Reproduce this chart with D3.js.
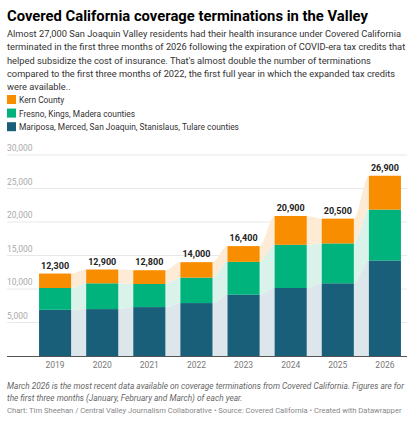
<!DOCTYPE html>
<html><head><meta charset="utf-8">
<script src="https://cdn.jsdelivr.net/npm/d3@7"></script>
<style>
body{margin:0;background:#fff;font-family:Roboto,"Noto Sans",sans-serif;color:#222}
#c{width:414px;height:423px;position:relative}
</style></head><body><div id="c"></div>
<script>
const years = ["2019","2020","2021","2022","2023","2024","2025","2026"];
const valley = [6900, 7000, 7300, 7900, 9150, 10150, 10850, 14250];
const fresno = [3250, 3850, 3450, 3800, 4900, 6450, 5950, 7600];
const kern = [2150, 2050, 2050, 2300, 2350, 4300, 3700, 5050];
const totals = ["12,300","12,900","12,800","14,000","16,400","20,900","20,500","26,900"];
const yTicks = [5000, 10000, 15000, 20000, 25000, 30000];

const keys = ["valley","fresno","kern"];
const colors = {valley:"#195f7a", fresno:"#00b27b", kern:"#f98d00"};
const light = {valley:"#dde6ea", fresno:"#d9f3ea", kern:"#fdebd6"};
const labels = {kern:"Kern County", fresno:"Fresno, Kings, Madera counties", valley:"Mariposa, Merced, San Joaquin, Stanislaus, Tulare counties"};

const rows = years.map((y,i) => ({year:y, valley:valley[i], fresno:fresno[i], kern:kern[i]}));
const series = d3.stack().keys(keys)(rows);

const svg = d3.select("#c").append("svg").attr("width",414).attr("height",423);

svg.append("text").attr("x",7).attr("y",21).attr("font-size",14.8).attr("font-weight",700)
  .text("Covered California coverage terminations in the Valley");

const desc = ["Almost 27,000 San Joaquin Valley residents had their health insurance under Covered California",
  "terminated in the first three months of 2026 following the expiration of COVID-era tax credits that",
  "helped subsidize the cost of insurance. That's almost double the number of terminations",
  "compared to the first three months of 2022, the first full year in which the expanded tax credits",
  "were available.."];
svg.selectAll(".d").data(desc).enter().append("text")
  .attr("x",7).attr("y",(d,i)=>37+i*13.3).attr("font-size",9.3).attr("fill","#333").text(d=>d);

["kern","fresno","valley"].forEach((k,i) => {
  const g = svg.append("g").attr("transform",`translate(7,${95+i*13.6})`);
  g.append("rect").attr("width",9).attr("height",9).attr("fill",colors[k]);
  g.append("text").attr("x",12).attr("y",8).attr("font-size",8.4).attr("fill","#333").text(labels[k]);
});

const x = d3.scaleBand().domain(years).range([15.5,424.5]).paddingInner(0.32).paddingOuter(0.5);
const y = d3.scaleLinear().domain([0,30000]).range([356,155]);

svg.selectAll(".grid").data(yTicks).enter().append("line")
  .attr("x1",7).attr("x2",407).attr("y1",d=>y(d)).attr("y2",d=>y(d)).attr("stroke","#e8e8e8");
svg.selectAll(".tl").data(yTicks).enter().append("text")
  .attr("x",7).attr("y",d=>y(d)-4).attr("font-size",8.5).attr("fill","#aaa").text(d=>d3.format(",")(d));

// light bands between bars
series.forEach(s => {
  const pts = [];
  s.forEach((d,i) => {
    pts.push({x:x(years[i]), d});
    pts.push({x:x(years[i])+x.bandwidth(), d});
  });
  const area = d3.area().x(p=>p.x).y0(p=>y(p.d[0])).y1(p=>y(p.d[1])).curve(d3.curveMonotoneX);
  svg.append("path").attr("d",area(pts)).attr("fill",light[s.key]);
});

series.forEach(s => {
  svg.selectAll(".b"+s.key).data(s).enter().append("rect")
    .attr("x",d=>x(d.data.year)).attr("width",x.bandwidth())
    .attr("y",d=>y(d[1])).attr("height",d=>y(d[0])-y(d[1])).attr("fill",colors[s.key]);
});

svg.selectAll(".tot").data(rows).enter().append("text")
  .attr("x",d=>x(d.year)+x.bandwidth()/2).attr("y",d=>y(d.valley+d.fresno+d.kern)-5)
  .attr("text-anchor","middle").attr("font-size",9).attr("font-weight",700).attr("fill","#222")
  .text((d,i)=>totals[i]);

svg.append("line").attr("x1",7).attr("x2",407).attr("y1",356.5).attr("y2",356.5).attr("stroke","#555");
svg.selectAll(".yr").data(years).enter().append("text")
  .attr("x",d=>x(d)+x.bandwidth()/2).attr("y",368).attr("text-anchor","middle")
  .attr("font-size",8.5).attr("fill","#777").text(d=>d);

const notes = ["March 2026 is the most recent data available on coverage terminations from Covered California. Figures are for",
  "the first three months (January, February and March) of each year."];
svg.selectAll(".n").data(notes).enter().append("text")
  .attr("x",7).attr("y",(d,i)=>389+i*11.5).attr("font-size",8.3).attr("font-style","italic").attr("fill","#666").text(d=>d);
svg.append("text").attr("x",7).attr("y",413).attr("font-size",7.6).attr("fill","#888")
  .text("Chart: Tim Sheehan / Central Valley Journalism Collaborative • Source: Covered California • Created with Datawrapper");
</script></body></html>
